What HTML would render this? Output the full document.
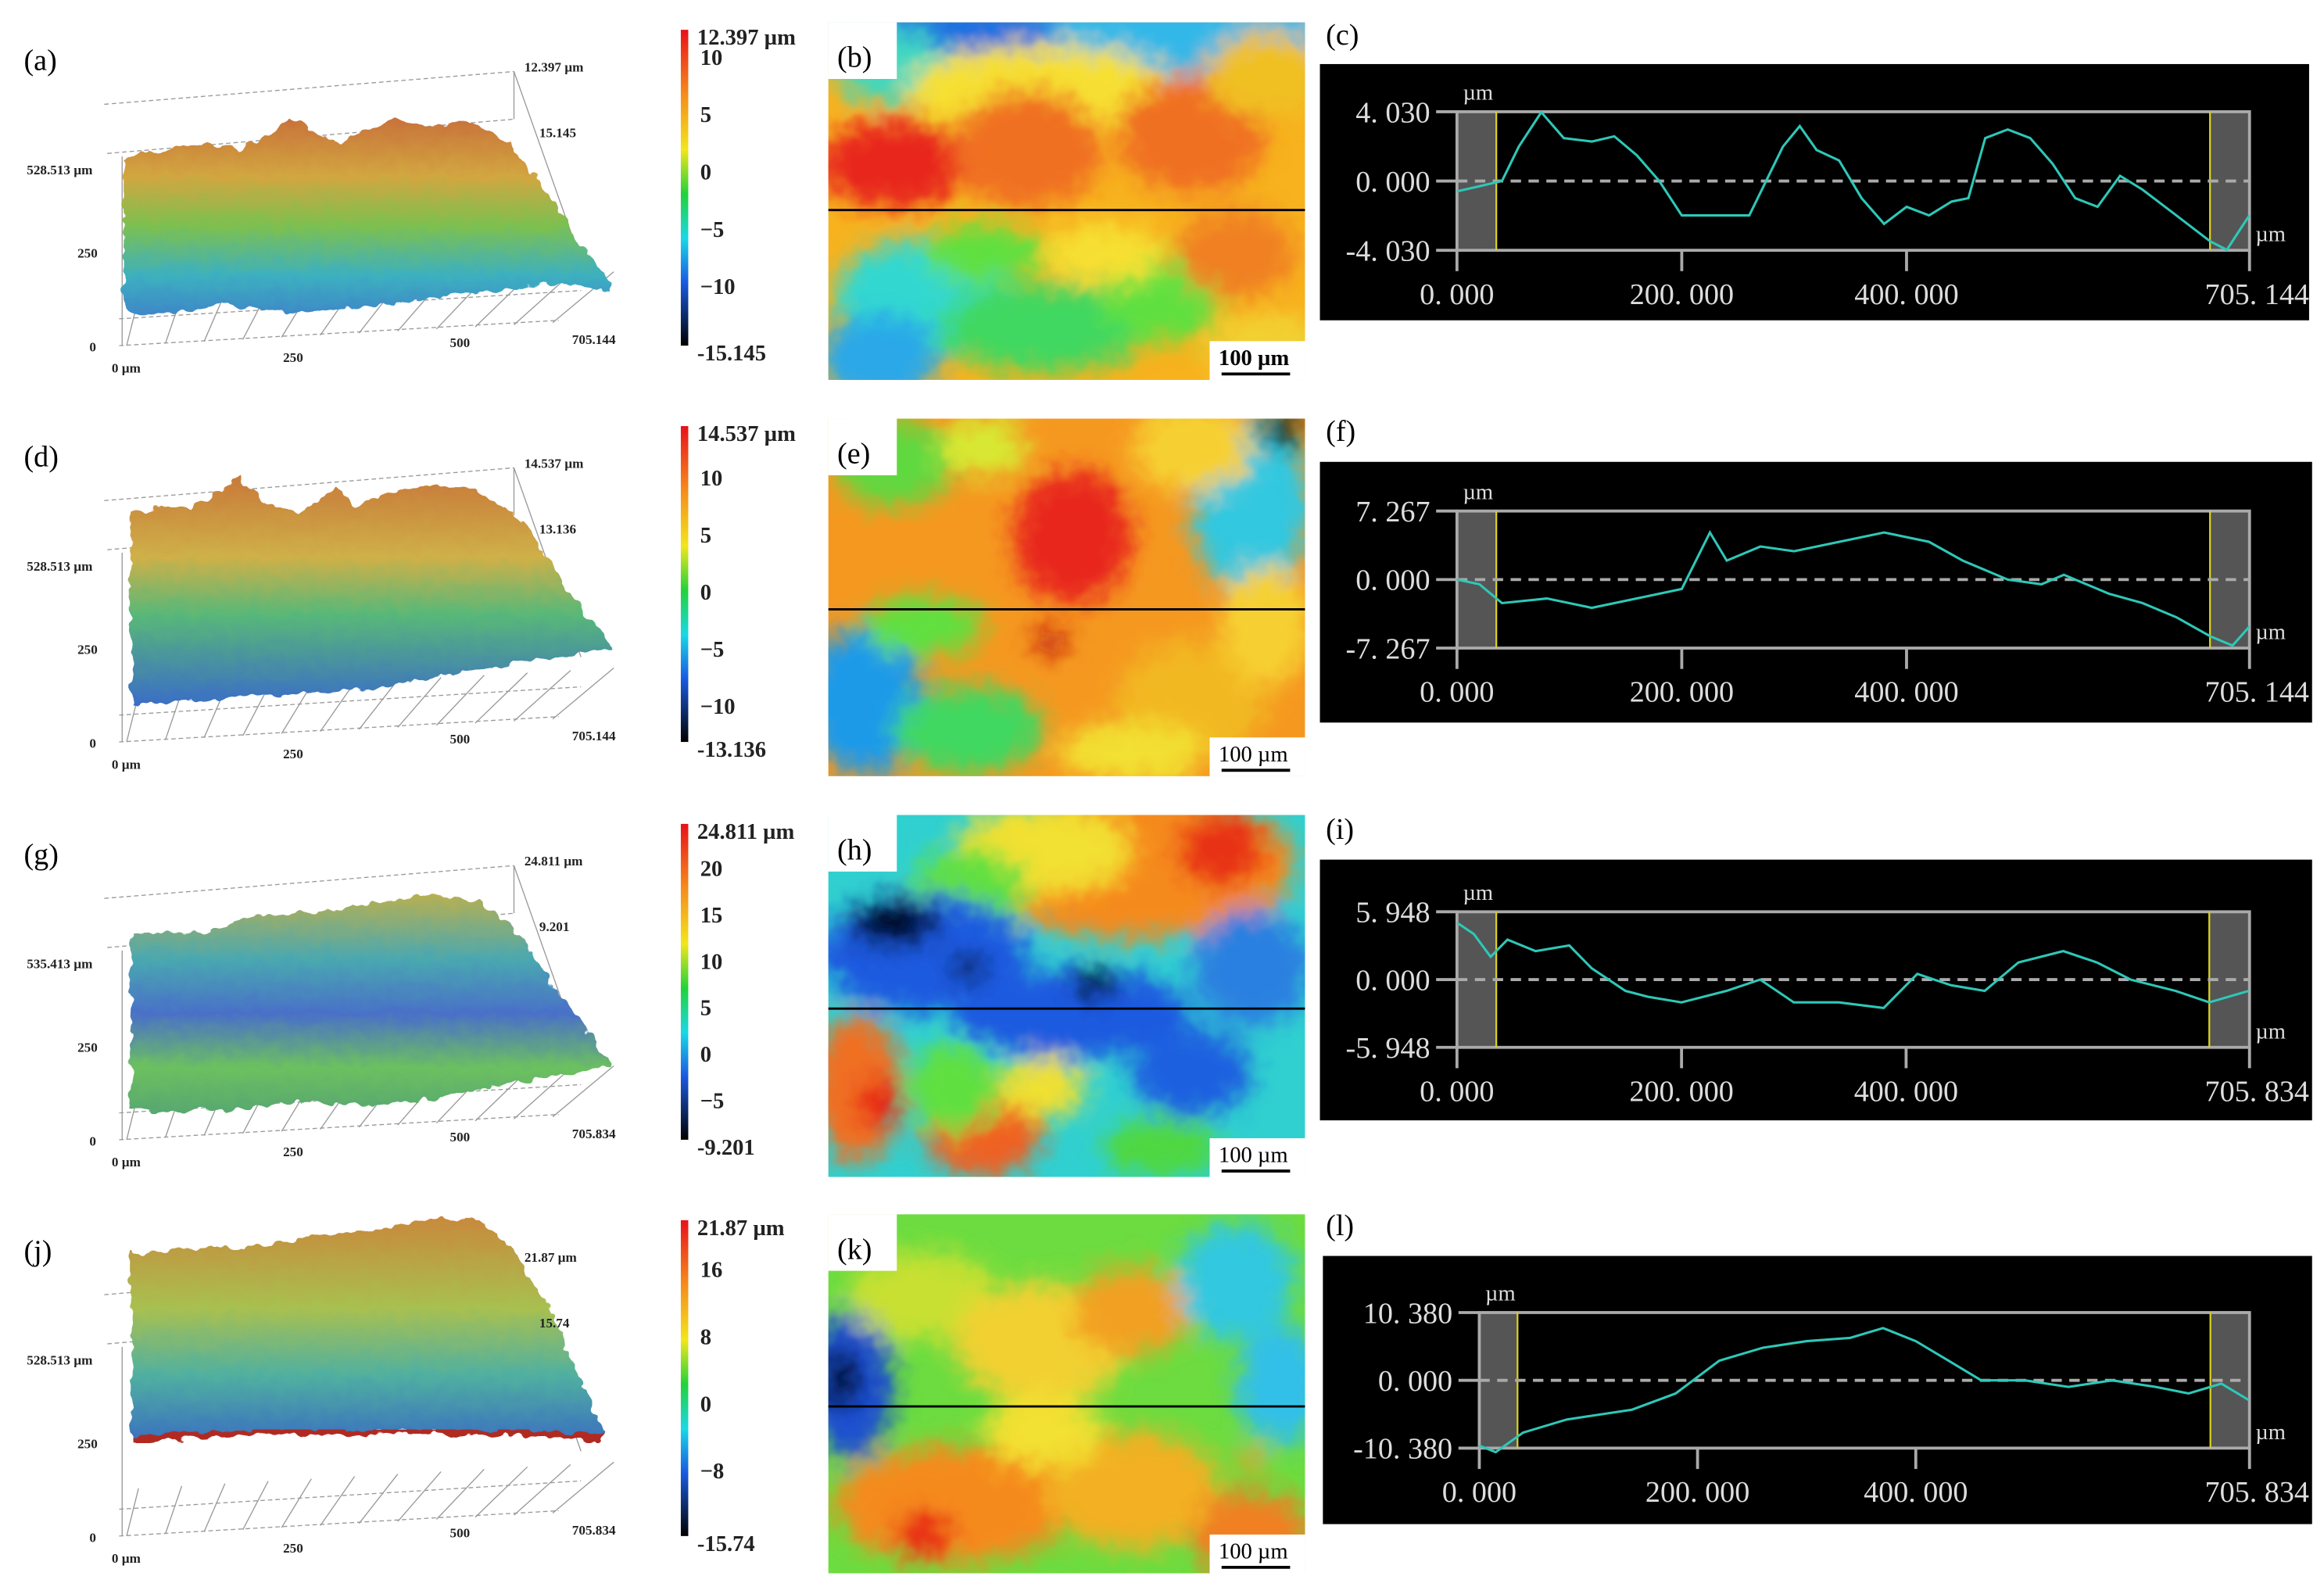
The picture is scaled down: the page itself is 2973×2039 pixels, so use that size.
<!DOCTYPE html>
<html><head><meta charset="utf-8">
<style>
html,body{margin:0;padding:0;background:#fff;overflow:hidden}
#root{position:absolute;left:0;top:0;width:1560px;height:1065px;transform:scale(1.90577);transform-origin:0 0;}
svg text{font-family:"Liberation Serif",serif}
</style></head>
<body>
<div id="root">
<svg id="fig" width="1560" height="1065" viewBox="0 0 1560 1065" xmlns="http://www.w3.org/2000/svg">
<defs>
<linearGradient id="jet" x1="0" y1="0" x2="0" y2="1">
<stop offset="0" stop-color="#e8101a"/><stop offset="0.2" stop-color="#f58a1c"/><stop offset="0.38" stop-color="#f2e61c"/><stop offset="0.52" stop-color="#22d23a"/><stop offset="0.66" stop-color="#1ad8e6"/><stop offset="0.8" stop-color="#1a5ae0"/><stop offset="1" stop-color="#000"/>
</linearGradient>
<linearGradient id="s1" x1="0" y1="0" x2="0" y2="1"><stop offset="0" stop-color="#c8703a"/><stop offset="0.3" stop-color="#d2a640"/><stop offset="0.55" stop-color="#7cc050"/><stop offset="0.8" stop-color="#3cb0c0"/><stop offset="1" stop-color="#3f86c8"/></linearGradient>
<linearGradient id="s2" x1="0" y1="0" x2="0" y2="1"><stop offset="0" stop-color="#c87a3a"/><stop offset="0.35" stop-color="#cfb048"/><stop offset="0.6" stop-color="#58b878"/><stop offset="1" stop-color="#3a6cc8"/></linearGradient>
<linearGradient id="s3" x1="0" y1="0" x2="0" y2="1"><stop offset="0" stop-color="#b8b050"/><stop offset="0.3" stop-color="#4aa8b0"/><stop offset="0.55" stop-color="#4a70c8"/><stop offset="0.8" stop-color="#6cc060"/><stop offset="1" stop-color="#58a870"/></linearGradient>
<linearGradient id="s4" x1="0" y1="0" x2="0" y2="1"><stop offset="0" stop-color="#c88a3c"/><stop offset="0.4" stop-color="#a8c050"/><stop offset="0.7" stop-color="#50b0a0"/><stop offset="1" stop-color="#3a70c0"/></linearGradient>
<filter id="blur" x="-20%" y="-20%" width="140%" height="140%"><feGaussianBlur stdDeviation="8"/></filter>
<filter id="rough" x="-5%" y="-5%" width="110%" height="110%">
<feTurbulence type="fractalNoise" baseFrequency="0.12" numOctaves="2" seed="3" result="n"/>
<feDisplacementMap in="SourceGraphic" in2="n" scale="8" xChannelSelector="R" yChannelSelector="G"/>
</filter>
<filter id="rough2" x="-5%" y="-5%" width="110%" height="110%">
<feTurbulence type="fractalNoise" baseFrequency="0.08" numOctaves="2" seed="7" result="n"/>
<feDisplacementMap in="SourceGraphic" in2="n" scale="14" xChannelSelector="R" yChannelSelector="G"/>
</filter>
<clipPath id="cb"><rect x="556" y="15" width="320" height="240"/></clipPath>
<clipPath id="ce"><rect x="556" y="281" width="320" height="240"/></clipPath>
<clipPath id="ch"><rect x="556" y="547" width="320" height="243"/></clipPath>
<clipPath id="ck"><rect x="556" y="815" width="320" height="241"/></clipPath>
</defs>
<g id="layer3d"></g>
<g id="layerHeat"></g>
<g id="layerProf"></g>
</svg>
</div>
<script>
// ---------- profile data (µm position, height µm) ----------
const profC_x=[0,20,40,55,75,95,120,140,160,180,200,230,260,275,290,305,320,340,360,380,400,420,440,455,470,490,510,530,550,570,590,610,640,670,685,695,705];
const profC_y=[-0.6,-0.3,0,2,4,2.5,2.3,2.6,1.5,0,-2,-2,-2,0,2,3.2,1.8,1.2,-1,-2.5,-1.5,-2,-1.2,-1,2.5,3,2.5,1,-1,-1.5,0.3,-0.5,-2,-3.5,-4,-3,-2];
const profF_x=[0,20,40,80,120,160,200,225,240,270,300,340,380,420,450,490,520,540,580,610,640,670,690,705];
const profF_y=[0,-0.5,-2.5,-2,-3,-2,-1,5,2,3.5,3,4,5,4,2,0,-0.5,0.5,-1.5,-2.5,-4,-6,-7,-5];
const profI_x=[0,15,30,45,70,100,120,150,170,200,240,270,300,340,380,410,440,470,500,540,570,600,640,670,705];
const profI_y=[5,4,2,3.5,2.5,3,1,-1,-1.5,-2,-1,0,-2,-2,-2.5,0.5,-0.5,-1,1.5,2.5,1.5,0,-1,-2,-1];
const profL_x=[0,15,40,80,140,180,220,260,300,340,370,400,430,460,500,540,580,620,650,680,705];
const profL_y=[-10,-11,-8,-6,-4.5,-2,3,5,6,6.5,8,6,3,0,0,-1,0,-1,-2,-0.5,-3];
const profRanges=[4.030,7.267,5.948,10.380];
const profMaxX=[705.144,705.144,705.834,705.834];
const profTickLabels=[["4. 030","0. 000","-4. 030"],["7. 267","0. 000","-7. 267"],["5. 948","0. 000","-5. 948"],["10. 380","0. 000","-10. 380"]];
const xTickVals=[0,200,400];
// colorbar labels
const cbTop=["12.397 µm","14.537 µm","24.811 µm","21.87 µm"];
const cbBot=["-15.145","-13.136","-9.201","-15.74"];
const cbTicks=[[10,5,0,-5,-10],[10,5,0,-5,-10],[20,15,10,5,0,-5],[16,8,0,-8]];
const cbMax=[12.397,14.537,24.811,21.87];
const cbMin=[-15.145,-13.136,-9.201,-15.74];
const zTop=["12.397 µm","14.537 µm","24.811 µm","21.87 µm"];
const zMid=["15.145","13.136","9.201","15.74"];
const yLen=["528.513 µm","528.513 µm","535.413 µm","528.513 µm"];
const xLen=["705.144","705.144","705.834","705.834"];

const NS="http://www.w3.org/2000/svg";
function mk(tag,attrs,parent,txt){const e=document.createElementNS(NS,tag);for(const k in attrs)e.setAttribute(k,attrs[k]);if(txt!==undefined)e.textContent=txt;parent.appendChild(e);return e;}
const L3=document.getElementById('layer3d'),LH=document.getElementById('layerHeat'),LP=document.getElementById('layerProf');
const rowOff=[0,266,533,799];
const letters=[["(a)","(b)","(c)"],["(d)","(e)","(f)"],["(g)","(h)","(i)"],["(j)","(k)","(l)"]];

// ---------- 3D panels ----------
const surfTops=[
 "83,108 100,102 120,98 140,96 160,100 180,90 195,78 210,88 225,96 245,88 265,80 290,86 310,80 330,88 345,100 360,118 380,150 410,190",
 "88,345 110,340 130,340 150,330 160,320 175,335 200,345 225,328 240,340 260,330 290,326 320,330 345,345 360,362 380,395 410,432",
 "88,628 110,626 140,625 170,615 200,612 230,610 260,604 290,600 320,605 345,622 370,660 410,712",
 "88,842 110,840 140,838 170,838 200,832 230,828 260,824 290,818 320,818 345,840 370,880 405,962"];
const surfBots=[
 "410,195 370,190 330,195 290,200 250,206 200,210 150,205 100,212 83,206",
 "410,437 370,442 330,448 290,455 250,462 200,466 150,468 100,472 88,474",
 "410,716 370,722 330,730 290,738 250,742 200,740 150,745 100,746 88,744",
 "405,965 360,962 320,962 280,960 240,962 200,960 150,962 100,965 88,968"];
for(let r=0;r<4;r++){
  const o=rowOff[r];
  const g=mk('g',{},L3);
  
  
  const t=mk('text',{x:16,y:47+o,'font-size':20},g,letters[r][0]);
  
  const st={stroke:'#999','stroke-width':0.7,fill:'none'};
  mk('line',Object.assign({x1:70,y1:70+o,x2:345,y2:48+o,'stroke-dasharray':'3,2'},st),g);
  mk('line',Object.assign({x1:72,y1:103+o,x2:345,y2:80+o,'stroke-dasharray':'3,2'},st),g);
  mk('line',Object.assign({x1:345,y1:48+o,x2:345,y2:80+o},st),g);
  mk('line',Object.assign({x1:345,y1:48+o,x2:390,y2:175+o},st),g);
  mk('line',Object.assign({x1:80,y1:232+o,x2:375,y2:215+o,'stroke-dasharray':'3,2'},st),g);
  mk('line',Object.assign({x1:80,y1:214+o,x2:390,y2:195+o,'stroke-dasharray':'3,2'},st),g);
  mk('line',Object.assign({x1:82,y1:232+o,x2:82,y2:105+o},st),g);
  for(let k=0;k<12;k++){const x=85+k*26;mk('line',Object.assign({x1:x,y1:232+o-k*1.4,x2:x+8+k*3,y2:200+o-k*1.6},st),g);}
  const pts=surfTops[r]+" "+surfBots[r];
  const p=mk('polygon',{points:pts,fill:'url(#s'+(r+1)+')',stroke:'none',filter:'url(#rough)'},g);
  
  if(r===3){mk('polyline',{points:surfBots[r],fill:'none',stroke:'#b02a20','stroke-width':4,filter:'url(#rough)'},g);}
  const ts={'font-size':9,'font-weight':'bold',fill:'#222'};
  mk('text',Object.assign({x:352,y:48+o},ts),g,zTop[r]);
  mk('text',Object.assign({x:362,y:92+o},ts),g,zMid[r]);
  mk('text',Object.assign({x:18,y:117+o},ts),g,yLen[r]);
  mk('text',Object.assign({x:52,y:173+o},ts),g,"250");
  mk('text',Object.assign({x:60,y:236+o},ts),g,"0");
  mk('text',Object.assign({x:75,y:250+o},ts),g,"0 µm");
  mk('text',Object.assign({x:190,y:243+o},ts),g,"250");
  mk('text',Object.assign({x:302,y:233+o},ts),g,"500");
  mk('text',Object.assign({x:384,y:231+o},ts),g,xLen[r]);
  const cbx=457,cby0=20+o,cbh=212;
  const cbr=mk('rect',{x:cbx,y:cby0,width:5,height:cbh,fill:'url(#jet)'},g);
  
  const cs={'font-size':15,'font-weight':'bold',fill:'#222'};
  mk('text',Object.assign({x:468,y:cby0+10},cs),g,cbTop[r]);
  mk('text',Object.assign({x:468,y:cby0+cbh+10},cs),g,cbBot[r]);
  const yv=v=>cby0+ (cbMax[r]-v)/(cbMax[r]-cbMin[r])*cbh;
  cbTicks[r].forEach(v=>{mk('text',Object.assign({x:470,y:yv(v)+5},cs),g,String(v).replace('-','−'));});
}

// ---------- heatmaps ----------
const heat=[
 {clip:'cb',y:15,h:240,base:'#f7b21e',line:141,blobs:[
  [740,20,200,30,'#30b8e8'],[650,20,60,20,'#1a70e0'],[600,45,40,25,'#40d8c0'],[700,60,90,30,'#f6e030'],
  [600,110,50,30,'#e8281a'],[690,100,50,40,'#f07020'],[800,90,50,40,'#f07020'],[850,50,40,30,'#f0c020'],
  [620,200,60,40,'#30d8d0'],[700,220,70,30,'#40d860'],[590,240,40,30,'#2aa8e8'],[780,200,40,30,'#60e040'],[740,170,40,20,'#f6e030'],[830,170,40,30,'#f08020'],[850,235,40,25,'#f2d030'],[660,170,40,20,'#60e040']]},
 {clip:'ce',y:281,h:240,base:'#f59820',line:409,blobs:[
  [720,360,40,45,'#e8281a'],[600,310,40,30,'#60d840'],[660,300,30,20,'#d8e830'],[840,340,40,60,'#30c8e0'],[800,300,40,30,'#f6d030'],[860,290,15,10,'#000'],
  [580,470,40,50,'#1a9ae8'],[650,490,50,30,'#40d860'],[620,420,40,20,'#60e040'],[800,470,50,40,'#f2b820'],[850,420,30,40,'#f6d030'],[705,430,12,8,'#c01010'],[760,505,50,20,'#f2e030']]},
 {clip:'ch',y:547,h:243,base:'#30d0d0',line:677,blobs:[
  [760,580,110,50,'#f58a1c'],[700,570,60,30,'#f2e030'],[820,570,30,25,'#e83018'],[650,600,40,30,'#60e040'],
  [620,640,70,40,'#1a5ae0'],[720,680,80,30,'#1a5ae0'],[600,620,30,15,'#000'],[735,660,15,10,'#000'],[650,650,10,10,'#000'],[840,650,40,40,'#2a80e0'],[800,720,40,30,'#1a60e0'],
  [575,730,30,50,'#f07020'],[590,740,15,15,'#e81818'],[660,760,40,30,'#f06020'],[700,730,30,20,'#f0e030'],[640,730,30,30,'#60e040'],[780,770,40,20,'#50d840']]},
 {clip:'ck',y:815,h:241,base:'#6cdc40',line:944,blobs:[
  [570,930,30,50,'#1a50d0'],[565,925,12,20,'#000'],[620,870,50,30,'#c8e030'],[700,900,60,40,'#f2d030'],[760,880,40,30,'#f2a020'],[830,860,40,40,'#30c8e0'],[860,930,30,40,'#30c0e8'],
  [640,1010,80,40,'#f58a1c'],[620,1030,20,15,'#e82818'],[760,1000,60,40,'#f2b020'],[840,1030,40,30,'#f08020'],[840,980,10,8,'#e8a020'],[700,960,40,25,'#f2e030']]}];
for(let r=0;r<4;r++){
  const H=heat[r];
  const g=mk('g',{'clip-path':'url(#'+H.clip+')'},LH);
  
  mk('rect',{x:556,y:H.y,width:320,height:H.h,fill:H.base},g);
  const rg=mk('g',{filter:'url(#rough2)'},g);
  const bg=mk('g',{filter:'url(#blur)'},rg);
  H.blobs.forEach(b=>mk('ellipse',{cx:b[0],cy:b[1],rx:b[2],ry:b[3],fill:b[4]},bg));
  const ln=mk('line',{x1:556,x2:876,y1:H.line,y2:H.line,stroke:'#000','stroke-width':1.5},g);
  
  mk('rect',{x:556,y:H.y,width:46,height:38,fill:'#fff'},LH);
  const t=mk('text',{x:562,y:H.y+30,'font-size':20},LH,letters[r][1]);
  
  mk('rect',{x:812,y:H.y+H.h-26,width:64,height:26,fill:'#fff'},LH);
  const sb=mk('text',{x:818,y:H.y+H.h-10,'font-size':15,'font-weight':r===0?'bold':'normal'},LH,"100 µm");
  
  mk('line',{x1:820,x2:866,y1:H.y+H.h-4,y2:H.y+H.h-4,stroke:'#000','stroke-width':2},LH);
}

// ---------- profiles ----------
const profs=[[profC_x,profC_y],[profF_x,profF_y],[profI_x,profI_y],[profL_x,profL_y]];
const boxes=[{bx:886,by:43,bw:664,bh:172,fl:978,fr:1510,ft:75,fb:168},
             {bx:886,by:310,bw:666,bh:175,fl:978,fr:1510,ft:343,fb:435},
             {bx:886,by:577,bw:666,bh:175,fl:978,fr:1510,ft:612,fb:703},
             {bx:888,by:843,bw:664,bh:180,fl:993,fr:1510,ft:881,fb:972}];
const sans='"Liberation Sans",sans-serif';
for(let r=0;r<4;r++){
  const B=boxes[r],o=rowOff[r];
  const g=mk('g',{},LP);
  
  const t=mk('text',{x:890,y:30+o,'font-size':20},g,letters[r][2]);
  
  mk('rect',{x:B.bx,y:B.by,width:B.bw,height:B.bh,fill:'#000'},g);
  const xs=v=>B.fl+v/profMaxX[r]*(B.fr-B.fl);
  const ym=(B.ft+B.fb)/2;
  const ys=v=>ym-v/profRanges[r]*(B.fb-B.ft)/2;
  mk('rect',{x:B.fl,y:B.ft,width:xs(35)-B.fl,height:B.fb-B.ft,fill:'#555'},g);
  mk('rect',{x:xs(670),y:B.ft,width:B.fr-xs(670),height:B.fb-B.ft,fill:'#555'},g);
  mk('rect',{x:B.fl,y:B.ft,width:B.fr-B.fl,height:B.fb-B.ft,fill:'none',stroke:'#aaa','stroke-width':2},g);
  mk('line',{x1:xs(35),x2:xs(35),y1:B.ft,y2:B.fb,stroke:'#d8d020','stroke-width':1.2},g);
  mk('line',{x1:xs(670),x2:xs(670),y1:B.ft,y2:B.fb,stroke:'#d8d020','stroke-width':1.2},g);
  const zl=mk('line',{x1:B.fl,x2:B.fr,y1:ym,y2:ym,stroke:'#aaa','stroke-width':2,'stroke-dasharray':'7,5'},g);
  
  const P=profs[r];
  const pts=P[0].map((x,i)=>xs(x).toFixed(1)+','+ys(P[1][i]).toFixed(1)).join(' ');
  const pl=mk('polyline',{points:pts,fill:'none',stroke:'#2ec8b8','stroke-width':1.6},g);
  
  const ls={'font-size':20,fill:'#ddd','font-family':sans};
  const tv=[profRanges[r],0,-profRanges[r]];
  tv.forEach((v,i)=>{
    const tx=mk('text',Object.assign({x:B.fl-18,y:ys(v)+7,'text-anchor':'end'},ls),g,profTickLabels[r][i]);
    
    mk('line',{x1:B.fl-14,x2:B.fl,y1:ys(v),y2:ys(v),stroke:'#aaa','stroke-width':2},g);
  });
  xTickVals.forEach(v=>{
    mk('line',{x1:xs(v),x2:xs(v),y1:B.fb,y2:B.fb+14,stroke:'#aaa','stroke-width':2},g);
    const tx=mk('text',Object.assign({x:xs(v),y:B.fb+36,'text-anchor':'middle'},ls),g,v.toFixed(3).replace('.','. '));
    
  });
  mk('line',{x1:B.fr,x2:B.fr,y1:B.fb,y2:B.fb+14,stroke:'#aaa','stroke-width':2},g);
  const tx=mk('text',Object.assign({x:B.fr+40,y:B.fb+36,'text-anchor':'end'},ls),g,profMaxX[r].toFixed(3).replace('.','. '));
  
  mk('text',{x:B.fl+4,y:B.ft-8,'font-size':15,fill:'#ddd','font-family':sans},g,"µm");
  mk('text',{x:B.fr+4,y:B.fb-6,'font-size':15,fill:'#ddd','font-family':sans},g,"µm");
}
</script>
</body></html>
